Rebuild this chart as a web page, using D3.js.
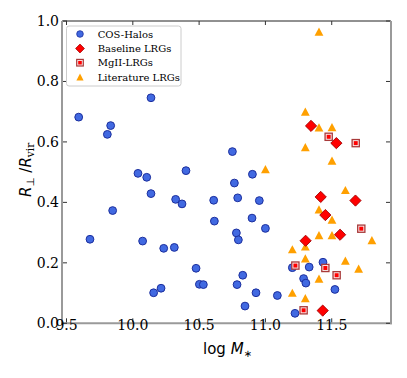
<!DOCTYPE html>
<html><head><meta charset="utf-8">
<script src="https://cdn.jsdelivr.net/npm/d3@7"></script>
<style>body{margin:0;background:#fff}svg{display:block}</style>
</head><body>
<svg id="c" width="407" height="378"></svg>
<script>
const xTicks = [9.5, 10.0, 10.5, 11.0, 11.5];
const yTicks = [0.0, 0.2, 0.4, 0.6, 0.8, 1.0];
const seriesNames = ["COS-Halos", "Baseline LRGs", "MgII-LRGs", "Literature LRGs"];

const cosX = [9.592, 9.677, 9.808, 9.833, 9.848, 10.039, 10.105, 10.137, 10.137, 10.074, 10.157, 10.213, 10.233, 10.323, 10.371, 10.401, 10.313, 10.477, 10.502, 10.532, 10.610, 10.615, 10.751, 10.766, 10.791, 10.781, 10.796, 10.786, 10.829, 10.846, 10.902, 10.899, 10.954, 11.000, 10.929, 11.090, 11.203, 11.288, 11.305, 11.330, 11.434, 11.524, 11.223];
const cosY = [0.682, 0.278, 0.625, 0.654, 0.373, 0.496, 0.483, 0.746, 0.429, 0.272, 0.101, 0.116, 0.248, 0.410, 0.395, 0.505, 0.251, 0.182, 0.129, 0.128, 0.407, 0.338, 0.568, 0.464, 0.415, 0.299, 0.276, 0.128, 0.159, 0.057, 0.493, 0.348, 0.406, 0.314, 0.101, 0.092, 0.184, 0.148, 0.133, 0.186, 0.202, 0.112, 0.033];

const baseX = [11.344, 11.535, 11.417, 11.452, 11.679, 11.563, 11.303, 11.432];
const baseY = [0.653, 0.596, 0.418, 0.358, 0.406, 0.293, 0.273, 0.042];

const mgX = [11.477, 11.681, 11.723, 11.226, 11.452, 11.537, 11.288];
const mgY = [0.617, 0.596, 0.313, 0.191, 0.183, 0.159, 0.043];

const litX = [11.404, 11.301, 11.404, 11.502, 11.301, 11.502, 11.000, 11.603, 11.404, 11.502, 11.404, 11.502, 11.803, 11.203, 11.301, 11.301, 11.603, 11.703, 11.404, 11.203, 11.301];
const litY = [0.965, 0.700, 0.648, 0.649, 0.583, 0.538, 0.510, 0.441, 0.377, 0.343, 0.292, 0.292, 0.275, 0.245, 0.254, 0.215, 0.207, 0.181, 0.148, 0.101, 0.083];

const L = 62, R = 391, T = 21, B = 323.3;
const x = d3.scaleLinear().domain([9.466, 11.947]).range([L, R]);
const y = d3.scaleLinear().domain([0, 1]).range([B, T]);

const svg = d3.select("#c");
const serif = "'DejaVu Serif', serif";
const sans = "'DejaVu Sans', sans-serif";

const C = {blue:"#4169e1", blueE:"#1c2f9e", red:"#ff0000", redE:"#a00000", orange:"#ffa000", mgE:"#a83a3a", mgF:"#fbecec"};

function diamond(s){return `M0,${-s}L${s},0L0,${s}L${-s},0Z`;}
function tri(w,h){return `M0,${-h}L${w},${h}L${-w},${h}Z`;}

const cos = cosX.map((v,i)=>({x:v,y:cosY[i]}));
const base = baseX.map((v,i)=>({x:v,y:baseY[i]}));
const mg = mgX.map((v,i)=>({x:v,y:mgY[i]}));
const lit = litX.map((v,i)=>({x:v,y:litY[i]}));

const g = svg.append("g");
g.selectAll(".cos").data(cos).enter().append("circle")
  .attr("cx",d=>x(d.x)).attr("cy",d=>y(d.y)).attr("r",3.9)
  .attr("fill",C.blue).attr("stroke",C.blueE).attr("stroke-width",1);
g.selectAll(".lit").data(lit).enter().append("path")
  .attr("transform",d=>`translate(${x(d.x)},${y(d.y)})`).attr("d",tri(4.4,4.1))
  .attr("fill",C.orange);
g.selectAll(".mg").data(mg).enter().append("g")
  .attr("transform",d=>`translate(${x(d.x)},${y(d.y)})`)
  .each(function(){
    const s=d3.select(this);
    s.append("rect").attr("x",-3.6).attr("y",-3.6).attr("width",7.2).attr("height",7.2)
      .attr("fill",C.mgF).attr("stroke",C.mgE).attr("stroke-width",1.3);
    s.append("rect").attr("x",-2).attr("y",-2).attr("width",4).attr("height",4).attr("fill",C.red);
  });
g.selectAll(".base").data(base).enter().append("path")
  .attr("transform",d=>`translate(${x(d.x)},${y(d.y)})`).attr("d",diamond(5.6))
  .attr("fill",C.red).attr("stroke",C.redE).attr("stroke-width",0.9);

// spines
svg.append("line").attr("x1",L).attr("x2",R).attr("y1",T).attr("y2",T).attr("stroke","#222").attr("stroke-width",1);
svg.append("line").attr("x1",L).attr("x2",L).attr("y1",T).attr("y2",B).attr("stroke","#9a9a9a").attr("stroke-width",2);
svg.append("line").attr("x1",R).attr("x2",R).attr("y1",T).attr("y2",B+1).attr("stroke","#9a9a9a").attr("stroke-width",2);
svg.append("line").attr("x1",L-1).attr("x2",R+1).attr("y1",B).attr("y2",B).attr("stroke","#9a9a9a").attr("stroke-width",2);

// ticks (inward, all sides)
const tk = svg.append("g").attr("stroke","#333").attr("stroke-width",1);
xTicks.forEach(v=>{
  tk.append("line").attr("x1",x(v)).attr("x2",x(v)).attr("y1",B-1).attr("y2",B-5);
  tk.append("line").attr("x1",x(v)).attr("x2",x(v)).attr("y1",T).attr("y2",T+4);
});
yTicks.forEach(v=>{
  tk.append("line").attr("x1",L+1).attr("x2",L+5).attr("y1",y(v)).attr("y2",y(v));
  tk.append("line").attr("x1",R-1).attr("x2",R-5).attr("y1",y(v)).attr("y2",y(v));
});

// tick labels
svg.append("g").selectAll("text").data(xTicks).enter().append("text")
  .attr("x",d=>x(d)).attr("y",329.5).attr("text-anchor","middle")
  .attr("font-family",serif).attr("font-size",14).attr("fill","#000")
  .text(d=>d.toFixed(1));
svg.append("g").selectAll("text").data(yTicks).enter().append("text")
  .attr("x",59).attr("y",d=>y(d)+5).attr("text-anchor","end")
  .attr("font-family",serif).attr("font-size",14).attr("fill","#000")
  .text(d=>d.toFixed(1));

// axis labels
const xl = svg.append("text").attr("x",203).attr("y",354).attr("font-family",sans).attr("font-size",15).attr("fill","#000");
xl.append("tspan").text("log ");
xl.append("tspan").attr("font-style","italic").text("M");
xl.append("tspan").attr("font-size",10).attr("dy",3).text("∗");

const yl = svg.append("text").attr("transform","translate(31,197) rotate(-90)")
  .attr("font-family",sans).attr("font-size",15).attr("fill","#000");
yl.append("tspan").attr("font-style","italic").text("R");
yl.append("tspan").attr("font-size",10.5).attr("dy",3).text("⊥");
yl.append("tspan").attr("dy",-3).text(" /");
yl.append("tspan").attr("font-style","italic").text("R");
yl.append("tspan").attr("font-size",10.5).attr("dy",3).attr("font-family",serif).text("vir");

// legend
const lg = svg.append("g");
lg.append("rect").attr("x",66.5).attr("y",26).attr("width",114.5).attr("height",60).attr("rx",2.5)
  .attr("fill","#fff").attr("fill-opacity",0.85).attr("stroke","#cccccc").attr("stroke-width",1);
const rows = [34, 48.5, 62.7, 77];
const mx = 80;
lg.append("circle").attr("cx",mx).attr("cy",rows[0]).attr("r",3.3).attr("fill",C.blue).attr("stroke",C.blueE).attr("stroke-width",0.8);
lg.append("path").attr("transform",`translate(${mx},${rows[1]})`).attr("d",diamond(4.4)).attr("fill",C.red).attr("stroke",C.redE).attr("stroke-width",0.8);
lg.append("rect").attr("x",mx-3.3).attr("y",rows[2]-3.3).attr("width",6.6).attr("height",6.6).attr("fill",C.mgF).attr("stroke",C.mgE).attr("stroke-width",1.2);
lg.append("rect").attr("x",mx-1.8).attr("y",rows[2]-1.8).attr("width",3.6).attr("height",3.6).attr("fill",C.red);
lg.append("path").attr("transform",`translate(${mx},${rows[3]})`).attr("d",tri(3.6,3.4)).attr("fill",C.orange);
lg.selectAll("text.l").data(seriesNames).enter().append("text")
  .attr("x",97.7).attr("y",(d,i)=>rows[i]+3.7)
  .attr("font-family",serif).attr("font-size",10).attr("fill","#000").text(d=>d);
</script>
</body></html>
